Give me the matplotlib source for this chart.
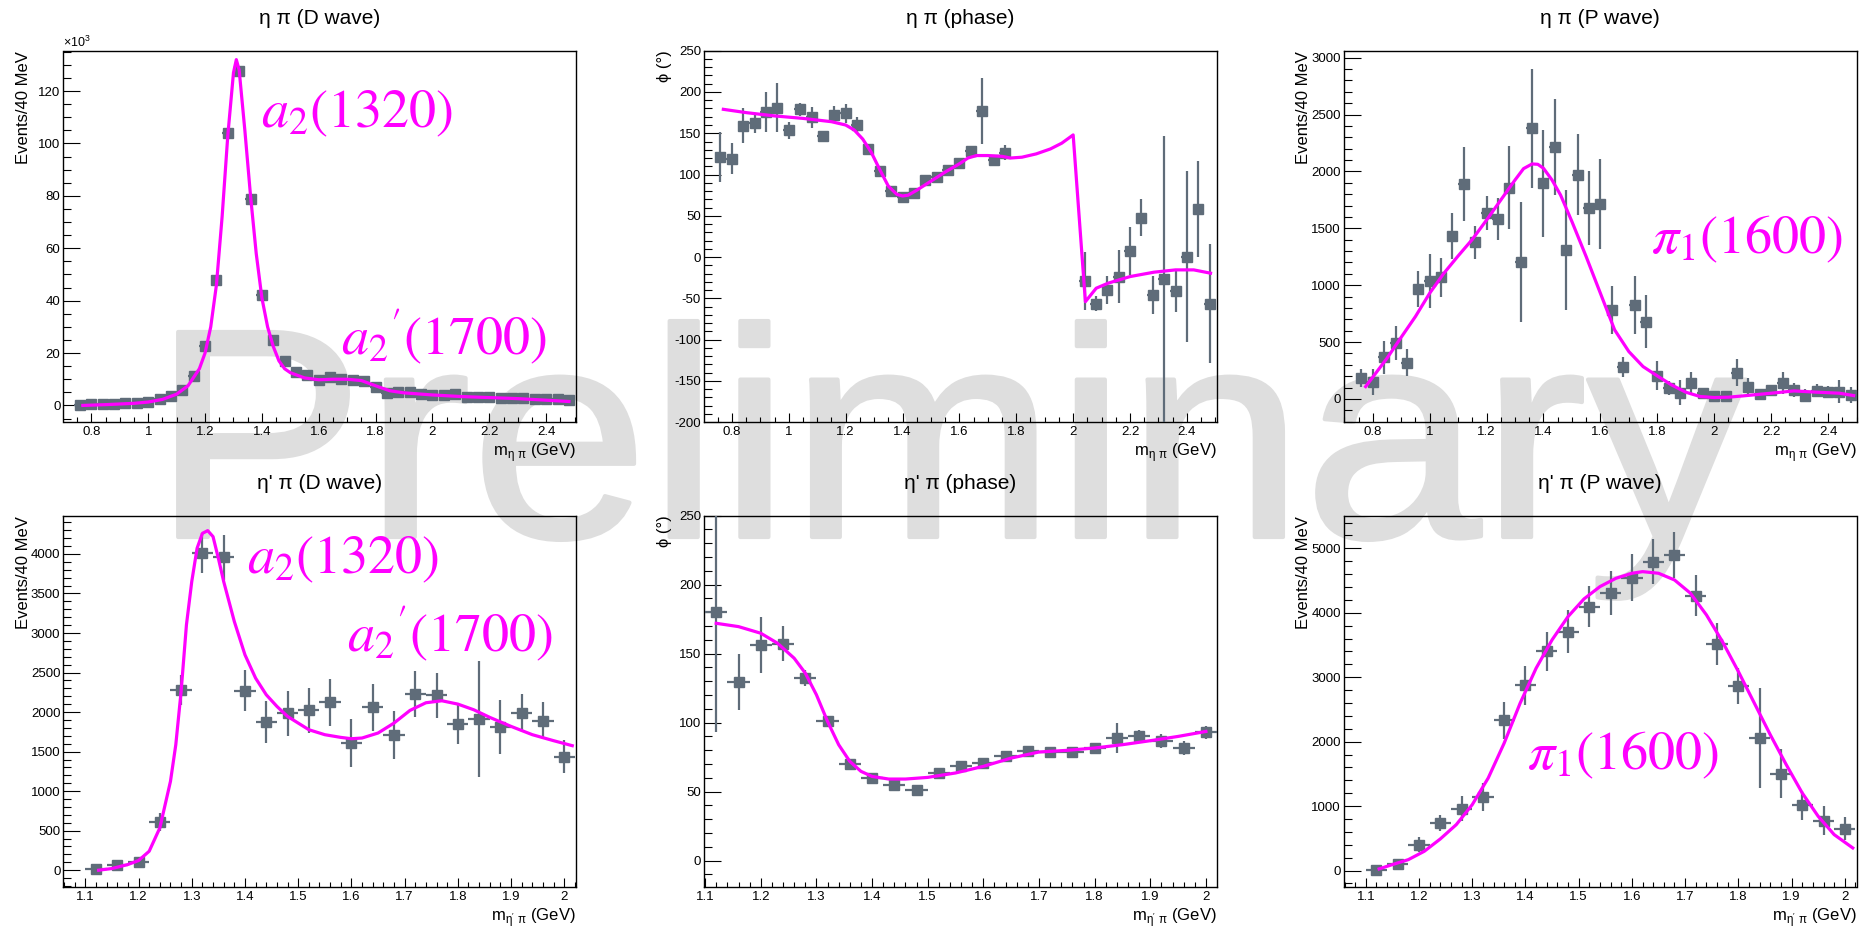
import matplotlib
matplotlib.use("Agg")
import matplotlib.pyplot as plt
import matplotlib.transforms as mtransforms
from matplotlib.ticker import MultipleLocator, FormatStrFormatter
from matplotlib.textpath import TextPath
from matplotlib.patches import PathPatch
from matplotlib.font_manager import FontProperties

plt.rcParams['font.family'] = ['Liberation Sans', 'DejaVu Sans']
plt.rcParams['axes.linewidth'] = 1.0

## Data: eta pi (bins of 40 MeV)
eta_m = [0.76, 0.80, 0.84, 0.88, 0.92, 0.96, 1.00, 1.04, 1.08, 1.12, 1.16,
         1.20, 1.24, 1.28, 1.32, 1.36, 1.40, 1.44, 1.48, 1.52, 1.56, 1.60,
         1.64, 1.68, 1.72, 1.76, 1.80, 1.84, 1.88, 1.92, 1.96, 2.00, 2.04,
         2.08, 2.12, 2.16, 2.20, 2.24, 2.28, 2.32, 2.36, 2.40, 2.44, 2.48]

# D wave, in units of 10^3 events
eta_d = [0.3, 0.6, 0.6, 0.6, 1.0, 1.0, 1.5, 2.3, 3.7, 5.8, 11.1,
         22.8, 47.9, 104.1, 127.6, 78.7, 42.1, 24.9, 17.0, 12.6, 11.7, 9.8,
         10.7, 10.2, 9.7, 9.2, 6.9, 4.8, 5.3, 5.3, 4.3, 3.9, 3.9,
         4.3, 3.1, 3.3, 3.2, 2.9, 2.8, 2.8, 2.5, 2.3, 2.3, 2.0]
eta_d_err = [0.2, 0.2, 0.2, 0.2, 0.2, 0.2, 0.3, 0.3, 0.3, 0.4, 0.5,
             0.7, 1.0, 1.2, 1.2, 1.0, 0.8, 0.6, 0.5, 0.5, 0.5, 0.5,
             0.5, 0.5, 0.5, 0.5, 0.4, 0.4, 0.4, 0.4, 0.3, 0.3, 0.3,
             0.3, 0.3, 0.3, 0.3, 0.3, 0.3, 0.3, 0.3, 0.3, 0.3, 0.3]
eta_d_fit_m = [0.77, 0.85, 0.95, 1.00, 1.05, 1.10, 1.14, 1.18, 1.20, 1.22,
               1.24, 1.26, 1.28, 1.30, 1.31, 1.32, 1.34, 1.36, 1.38, 1.40,
               1.42, 1.44, 1.46, 1.48, 1.50, 1.55, 1.60, 1.65, 1.70, 1.75,
               1.80, 1.85, 1.90, 2.00, 2.10, 2.20, 2.30, 2.40, 2.48]
eta_d_fit = [0.0, 0.3, 0.8, 1.3, 2.3, 4.3, 7.5, 14.0, 20.0, 30.0,
             46.0, 72.0, 103.0, 127.0, 132.0, 128.0, 105.0, 80.0, 58.0, 41.0,
             30.0, 22.5, 17.0, 14.0, 12.5, 10.5, 9.8, 10.0, 10.0, 9.5,
             7.5, 5.6, 4.8, 4.0, 3.4, 3.0, 2.6, 2.0, 1.5]

# phase (degrees); no points between 1.80 and 2.00 GeV
eta_ph_m = [0.76, 0.80, 0.84, 0.88, 0.92, 0.96, 1.00, 1.04, 1.08, 1.12, 1.16,
            1.20, 1.24, 1.28, 1.32, 1.36, 1.40, 1.44, 1.48, 1.52, 1.56, 1.60,
            1.64, 1.68, 1.72, 1.76,
            2.04, 2.08, 2.12, 2.16, 2.20, 2.24, 2.28, 2.32, 2.36, 2.40, 2.44, 2.48]
eta_ph = [121.3, 119.2, 159.2, 162.0, 176.0, 181.0, 153.6, 179.0, 169.3, 146.7, 172.5,
          174.0, 160.0, 131.0, 104.7, 80.5, 73.2, 77.3, 93.0, 97.5, 105.6, 114.4,
          128.1, 177.0, 117.6, 126.5,
          -28.9, -56.7, -39.7, -23.6, 7.9, 47.8, -45.8, -26.8, -41.0, 0.6, 58.3, -56.7]
eta_ph_err = [30, 19, 21, 12, 24, 30, 10, 8, 13, 4, 10,
              11, 10, 5, 4, 3, 3, 3, 3, 3, 3, 4,
              7, 40, 5, 9,
              35, 9, 17, 32, 29, 22, 23, 174, 26, 104, 58, 72]
eta_ph_fit_m = [0.77, 0.85, 0.95, 1.05, 1.15, 1.20, 1.23, 1.26, 1.29, 1.32,
                1.35, 1.38, 1.40, 1.42, 1.45, 1.50, 1.55, 1.60, 1.63, 1.66,
                1.70, 1.75, 1.78, 1.82, 1.87, 1.92, 1.96, 2.00, 2.043, 2.081,
                2.123, 2.20, 2.284, 2.36, 2.424, 2.483]
eta_ph_fit = [179, 175, 171, 168, 164, 160, 154, 143, 127, 106,
              86, 76, 74, 75, 81, 92, 103, 113, 120, 123,
              123, 122, 120, 121, 125, 131, 138, 148, -54, -37.7,
              -31.6, -23.6, -18.3, -15.5, -15.5, -19.5]

# P wave
eta_p = [187, 146, 366, 495, 319, 964, 1037, 1069, 1433, 1887, 1377,
         1632, 1585, 1858, 1207, 2379, 1896, 2215, 1310, 1972, 1679, 1714,
         782, 284, 826, 680, 205, 94, 56, 138, 50, 29, 29,
         231, 108, 41, 79, 138, 79, 29, 73, 64, 64, 35]
eta_p_err = [80, 115, 145, 150, 120, 160, 240, 170, 205, 325, 145,
             150, 185, 365, 527, 525, 470, 420, 530, 355, 325, 395,
             212, 88, 255, 235, 128, 60, 110, 102, 30, 25, 20,
             120, 72, 20, 30, 96, 62, 58, 60, 45, 100, 72]
eta_p_fit_m = [0.775, 0.85, 0.90, 0.95, 1.00, 1.05, 1.10, 1.15, 1.20, 1.25,
               1.30, 1.33, 1.36, 1.38, 1.40, 1.43, 1.46, 1.50, 1.55, 1.60,
               1.65, 1.70, 1.75, 1.80, 1.85, 1.90, 1.95, 2.00, 2.05, 2.10,
               2.20, 2.28, 2.36, 2.44, 2.49]
eta_p_fit = [108, 357, 542, 724, 929, 1105, 1257, 1403, 1573, 1749,
             1925, 2025, 2066, 2063, 2028, 1925, 1793, 1559, 1251, 929,
             607, 416, 284, 202, 123, 59, 21, 12, 15, 26,
             50, 70, 59, 50, 29]

## Data: eta' pi
etap_m = [1.12, 1.16, 1.20, 1.24, 1.28, 1.32, 1.36, 1.40, 1.44, 1.48, 1.52, 1.56,
          1.60, 1.64, 1.68, 1.72, 1.76, 1.80, 1.84, 1.88, 1.92, 1.96, 2.00]

etap_d = [13, 72, 105, 611, 2282, 4008, 3958, 2269, 1874, 1987, 2021, 2122,
          1608, 2059, 1714, 2232, 2211, 1848, 1912, 1811, 1987, 1891, 1436]
etap_d_err = [15, 20, 30, 115, 190, 255, 285, 258, 265, 285, 285, 300,
              300, 300, 303, 290, 280, 252, 730, 347, 237, 237, 205]
etap_d_fit_m = [1.125, 1.15, 1.18, 1.20, 1.22, 1.24, 1.26, 1.27, 1.28, 1.29,
                1.30, 1.31, 1.32, 1.33, 1.34, 1.35, 1.36, 1.37, 1.38, 1.40,
                1.42, 1.44, 1.46, 1.48, 1.50, 1.52, 1.55, 1.58, 1.60, 1.62,
                1.65, 1.68, 1.71, 1.74, 1.77, 1.80, 1.83, 1.86, 1.90, 1.94,
                1.98, 2.015]
etap_d_fit = [0, 21, 72, 122, 240, 535, 1124, 1587, 2261, 3103,
              3651, 4072, 4261, 4295, 4219, 3945, 3651, 3398, 3145, 2724,
              2429, 2219, 2072, 1945, 1861, 1777, 1714, 1680, 1663, 1672,
              1735, 1861, 2021, 2118, 2143, 2101, 2029, 1933, 1819, 1714,
              1638, 1575]

etap_ph = [180.5, 129.6, 156.4, 157.1, 132.2, 100.9, 70.0, 59.8, 55.0, 51.4, 63.5, 68.3,
           70.7, 75.5, 79.1, 78.4, 78.7, 81.6, 88.8, 90.0, 86.9, 81.6, 92.9]
etap_ph_err = [87, 20.5, 20.5, 12.7, 6, 3, 3, 2, 3, 2, 2, 3,
               2, 2, 2, 2, 2, 3, 11, 5, 5, 5, 5]
etap_ph_fit_m = [1.12, 1.16, 1.20, 1.23, 1.26, 1.28, 1.30, 1.32, 1.34, 1.36,
                 1.38, 1.40, 1.43, 1.46, 1.50, 1.55, 1.60, 1.65, 1.70, 1.75,
                 1.80, 1.85, 1.90, 1.95, 2.00]
etap_ph_fit = [172, 169.6, 164.8, 157.6, 146.7, 135.9, 120.2, 100.9, 84, 71.9,
               64.7, 61, 59.1, 59.1, 60.3, 63.5, 68.3, 74.3, 78.7, 79.9,
               81.6, 84, 86.9, 90, 93.6]

etap_p = [15, 108, 403, 739, 956, 1142, 2330, 2872, 3399, 3709, 4096, 4303,
          4545, 4793, 4897, 4267, 3518, 2867, 2056, 1503, 1012, 775, 651]
etap_p_err = [20, 40, 115, 120, 194, 222, 290, 298, 305, 330, 315, 338,
              367, 354, 350, 323, 327, 275, 780, 380, 220, 220, 176]
etap_p_fit_m = [1.125, 1.15, 1.18, 1.21, 1.24, 1.27, 1.30, 1.33, 1.36, 1.39,
                1.42, 1.45, 1.48, 1.51, 1.54, 1.57, 1.60, 1.62, 1.65, 1.68,
                1.71, 1.74, 1.77, 1.80, 1.83, 1.86, 1.89, 1.92, 1.95, 1.98,
                2.015]
etap_p_fit = [26, 93, 170, 300, 491, 713, 1023, 1436, 1978, 2598,
              3140, 3580, 3941, 4215, 4406, 4535, 4613, 4638, 4613, 4509,
              4303, 3967, 3554, 3089, 2598, 2107, 1643, 1204, 842, 558,
              351]

## Styles
pt_color = '#5f6c79'
fit_color = '#ff00ff'
mark_color = '#dedede'
fig_w, fig_h = 1872, 930

fig = plt.figure(figsize=(fig_w / 100, fig_h / 100), dpi=100)
fig.patch.set_facecolor('white')

# big grey watermark behind the pads, slightly widened and with rounded strokes
wm_path = TextPath((0, 0), 'Preliminary', size=298,
                   prop=FontProperties(family='Liberation Sans'))
wm_trans = (mtransforms.Affine2D().scale(1.07 / fig_w, 1.0 / fig_h)
            .translate(152 / fig_w, (fig_h - 537) / fig_h) + fig.transFigure)
wm = PathPatch(wm_path, facecolor=mark_color, edgecolor=mark_color, lw=3,
               joinstyle='round', capstyle='round', zorder=-1,
               transform=wm_trans)
fig.add_artist(wm)

col_left = [63.5, 704, 1344]
row_top = [50.7, 515.7]
pad_w, pad_h = 512.5, 371.5


def make_axes(col, row):
    ax = fig.add_axes([col_left[col] / fig_w, 1 - (row_top[row] + pad_h) / fig_h,
                       pad_w / fig_w, pad_h / fig_h])
    ax.set_facecolor('none')
    return ax


def style_axes(ax, xlim, ylim, xmaj, xmin, ymaj, ymin, title, xlab, ylab):
    ax.set_xlim(*xlim)
    ax.set_ylim(*ylim)
    ax.xaxis.set_major_locator(MultipleLocator(xmaj))
    ax.xaxis.set_minor_locator(MultipleLocator(xmin))
    ax.yaxis.set_major_locator(MultipleLocator(ymaj))
    ax.yaxis.set_minor_locator(MultipleLocator(ymin))
    ax.xaxis.set_major_formatter(FormatStrFormatter('%g'))
    ax.yaxis.set_major_formatter(FormatStrFormatter('%g'))
    ax.tick_params(axis='x', which='major', direction='in', length=6.5,
                   width=0.8, pad=3, labelsize=9.5, top=False)
    ax.tick_params(axis='x', which='minor', direction='in', length=3.4,
                   width=0.8, top=False)
    ax.tick_params(axis='y', which='major', direction='in', length=12,
                   width=0.8, pad=2.2, labelsize=9.5, right=False)
    ax.tick_params(axis='y', which='minor', direction='in', length=6,
                   width=0.8, right=False)
    ax.text(0.5, 1 + 32 / pad_h, title, transform=ax.transAxes,
            ha='center', va='center', fontsize=15)
    ax.text(1.0, -30 / pad_h, xlab, transform=ax.transAxes,
            ha='right', va='center', fontsize=12)
    ax.text(-40 / pad_w, 1.0, ylab, transform=ax.transAxes, rotation=90,
            ha='center', va='top', fontsize=12)


def draw_points(ax, m, y, yerr):
    ax.errorbar(m, y, xerr=0.02, yerr=yerr, fmt='s', color=pt_color,
                ms=6.5, elinewidth=1.6, capsize=0, zorder=3)


def draw_fit(ax, m, y):
    ax.plot(m, y, color=fit_color, lw=2.3, zorder=4)


def label(ax, x, y, s):
    ax.text(x, y, s, color=fit_color, fontsize=39, ha='left', va='baseline',
            math_fontfamily='stix', zorder=5)


xl_eta = r'm$_{\mathregular{η\ π}}$ (GeV)'
xl_etap = r"m$_{\mathregular{η'\ π}}$ (GeV)"
yl_ev = 'Events/40 MeV'
yl_ph = 'ϕ (°)'

# eta pi, D wave
ax = make_axes(0, 0)
draw_points(ax, eta_m, eta_d, eta_d_err)
draw_fit(ax, eta_d_fit_m, eta_d_fit)
style_axes(ax, (0.702, 2.505), (-6.4, 135.4), 0.2, 0.05, 20, 5,
           'η π (D wave)', xl_eta, yl_ev)
ax.text(0.0, 1.003, r'×10$^{\mathregular{3}}$', transform=ax.transAxes,
        ha='left', va='bottom', fontsize=9)
label(ax, 1.397, 106.3, r'$a_2(1320)$')
label(ax, 1.678, 19.3, r"$a_2{}'(1700)$")

# eta pi, phase
ax = make_axes(1, 0)
draw_points(ax, eta_ph_m, eta_ph, eta_ph_err)
draw_fit(ax, eta_ph_fit_m, eta_ph_fit)
style_axes(ax, (0.702, 2.504), (-200, 250), 0.2, 0.05, 50, 10,
           'η π (phase)', xl_eta, yl_ph)

# eta pi, P wave
ax = make_axes(2, 0)
draw_points(ax, eta_m, eta_p, eta_p_err)
draw_fit(ax, eta_p_fit_m, eta_p_fit)
style_axes(ax, (0.699, 2.50), (-205, 3062), 0.2, 0.05, 500, 100,
           'η π (P wave)', xl_eta, yl_ev)
label(ax, 1.777, 1280, r'$\pi_1(1600)$')

# eta' pi, D wave
ax = make_axes(0, 1)
draw_points(ax, etap_m, etap_d, etap_d_err)
draw_fit(ax, etap_d_fit_m, etap_d_fit)
style_axes(ax, (1.059, 2.022), (-215, 4484), 0.1, 0.02, 500, 100,
           "η' π (D wave)", xl_etap, yl_ev)
label(ax, 1.403, 3756, r'$a_2(1320)$')
label(ax, 1.592, 2766, r"$a_2{}'(1700)$")

# eta' pi, phase
ax = make_axes(1, 1)
draw_points(ax, etap_m, etap_ph, etap_ph_err)
draw_fit(ax, etap_ph_fit_m, etap_ph_fit)
style_axes(ax, (1.098, 2.019), (-19.3, 250), 0.1, 0.02, 50, 10,
           "η' π (phase)", xl_etap, yl_ph)

# eta' pi, P wave
ax = make_axes(2, 1)
draw_points(ax, etap_m, etap_p, etap_p_err)
draw_fit(ax, etap_p_fit_m, etap_p_fit)
style_axes(ax, (1.059, 2.022), (-258, 5506), 0.1, 0.02, 1000, 200,
           "η' π (P wave)", xl_etap, yl_ev)
label(ax, 1.403, 1565, r'$\pi_1(1600)$')

fig.savefig('out.png', dpi=100)
